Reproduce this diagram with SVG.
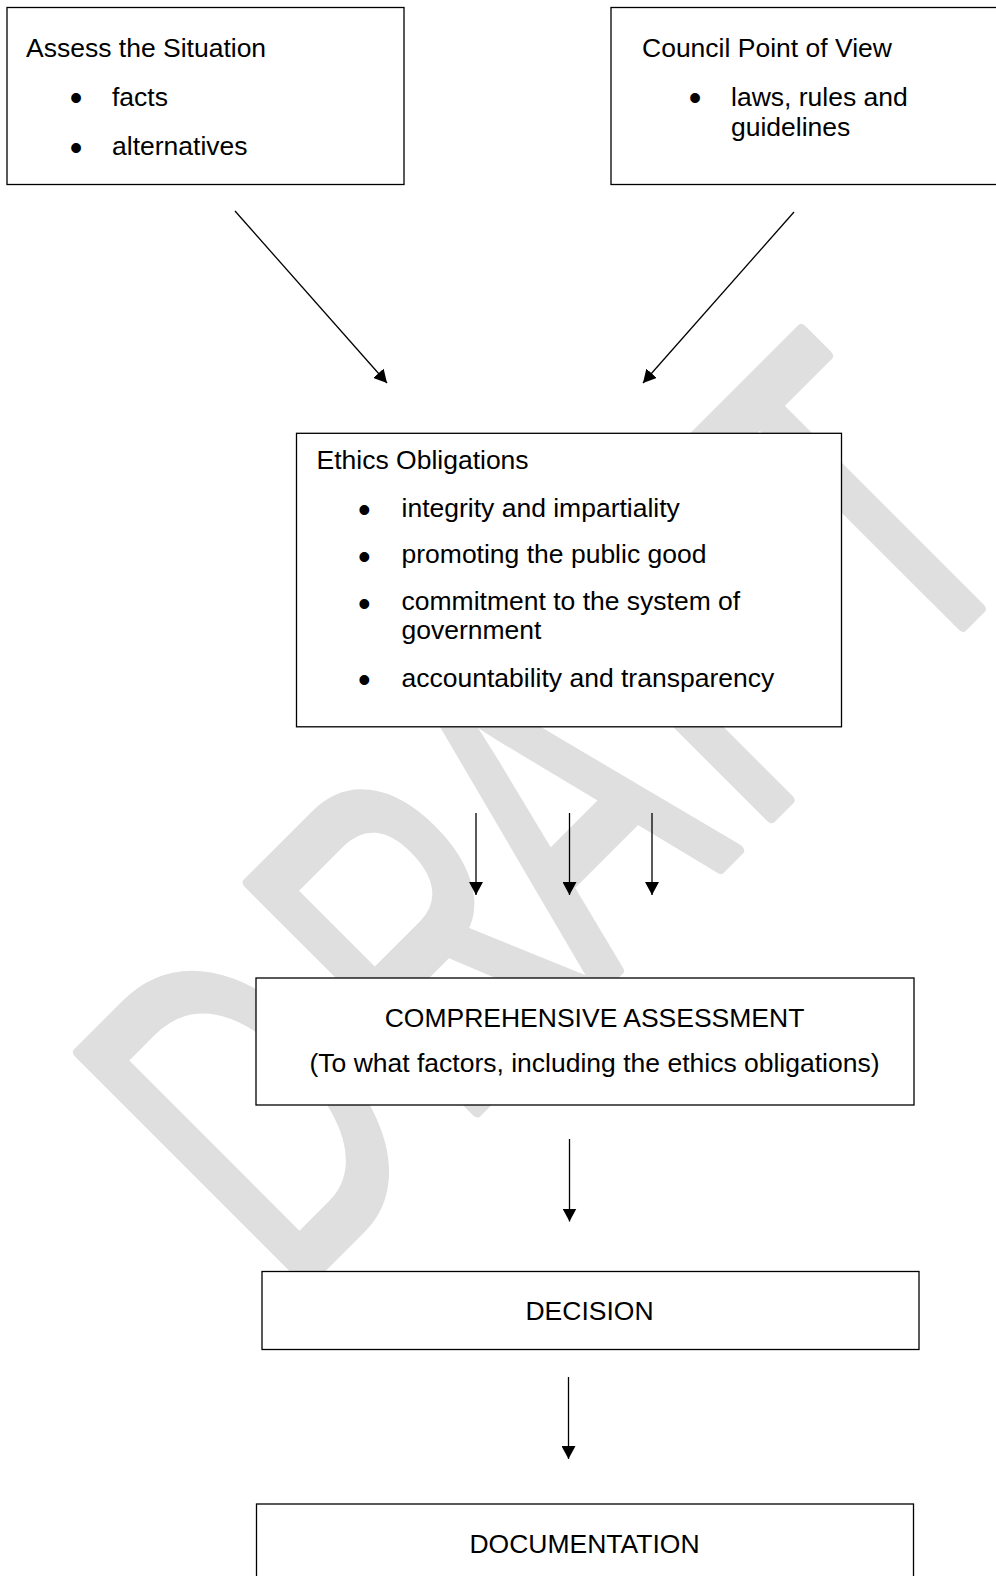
<svg xmlns="http://www.w3.org/2000/svg" width="996" height="1576" viewBox="0 0 996 1576">
<defs>
<style>
.wm{font-family:"Liberation Sans",Arial,sans-serif;font-size:469px;fill:#dfdfdf;stroke:#dfdfdf;stroke-width:10;stroke-linejoin:round;vector-effect:non-scaling-stroke}
.box{fill:#fff;stroke:#000;stroke-width:1.3}
.t{font-family:"Liberation Sans",Arial,sans-serif;font-size:26.5px;fill:#000}
.m{text-anchor:middle}
.b{font-family:"Liberation Sans",Arial,sans-serif;font-size:36px;fill:#000;text-anchor:middle}
.c{stroke:#000;stroke-width:1.3;fill:none;marker-end:url(#ah)}
</style>
<marker id="ah" markerUnits="userSpaceOnUse" markerWidth="14" markerHeight="14" refX="13" refY="7" orient="auto">
<path d="M0,0 L13,7 L0,14 Z" fill="#000"/>
</marker>
</defs>
<rect width="996" height="1576" fill="#fff"/>
<g id="watermark">
<text class="wm" transform="rotate(-45) scale(0.64,1)" x="-1117 -742 -433 -92 248" y="1123">DRAFT</text>
</g>
<g id="assess">
<rect class="box" x="7" y="7.5" width="397" height="177"/>
<text class="t" x="26" y="57.3">Assess the Situation</text>
<text class="b" x="76" y="110.3">•</text>
<text class="t" x="112" y="106">facts</text>
<text class="b" x="76" y="159.7">•</text>
<text class="t" x="112" y="155">alternatives</text>
</g>
<g id="council">
<rect class="box" x="611" y="7.5" width="400" height="177"/>
<text class="t" x="642" y="57.3">Council Point of View</text>
<text class="b" x="695" y="110">•</text>
<text class="t" x="731" y="106">laws, rules and</text>
<text class="t" x="731" y="136">guidelines</text>
</g>
<g id="ethics">
<rect class="box" x="296.5" y="433.3" width="545" height="293.5"/>
<text class="t" x="316.5" y="469.3">Ethics Obligations</text>
<text class="b" x="364.3" y="522.3">•</text>
<text class="t" x="401.5" y="516.7">integrity and impartiality</text>
<text class="b" x="364.3" y="569">•</text>
<text class="t" x="401.5" y="563.3">promoting the public good</text>
<text class="b" x="364.3" y="615.7">•</text>
<text class="t" x="401.5" y="610">commitment to the system of</text>
<text class="t" x="401.5" y="639">government</text>
<text class="b" x="364.3" y="692.3">•</text>
<text class="t" x="401.5" y="686.7">accountability and transparency</text>
</g>
<g id="comprehensive">
<rect class="box" x="256" y="978" width="658" height="127"/>
<text class="t m" x="594.5" y="1027.3">COMPREHENSIVE ASSESSMENT</text>
<text class="t m" x="594.5" y="1072">(To what factors, including the ethics obligations)</text>
</g>
<g id="decision">
<rect class="box" x="262" y="1271.5" width="657" height="78"/>
<text class="t m" x="589.5" y="1320">DECISION</text>
</g>
<g id="documentation">
<rect class="box" x="256.5" y="1504" width="657" height="100"/>
<text class="t m" x="584.5" y="1553">DOCUMENTATION</text>
</g>
<g id="connectors">
<line class="c" x1="235" y1="211" x2="387" y2="383"/>
<line class="c" x1="794" y1="212" x2="643" y2="383"/>
<line class="c" x1="476" y1="813" x2="476" y2="895"/>
<line class="c" x1="569.5" y1="813" x2="569.5" y2="895"/>
<line class="c" x1="652" y1="813" x2="652" y2="895"/>
<line class="c" x1="569.5" y1="1139" x2="569.5" y2="1221.5"/>
<line class="c" x1="568.5" y1="1377" x2="568.5" y2="1459"/>
</g>
</svg>
